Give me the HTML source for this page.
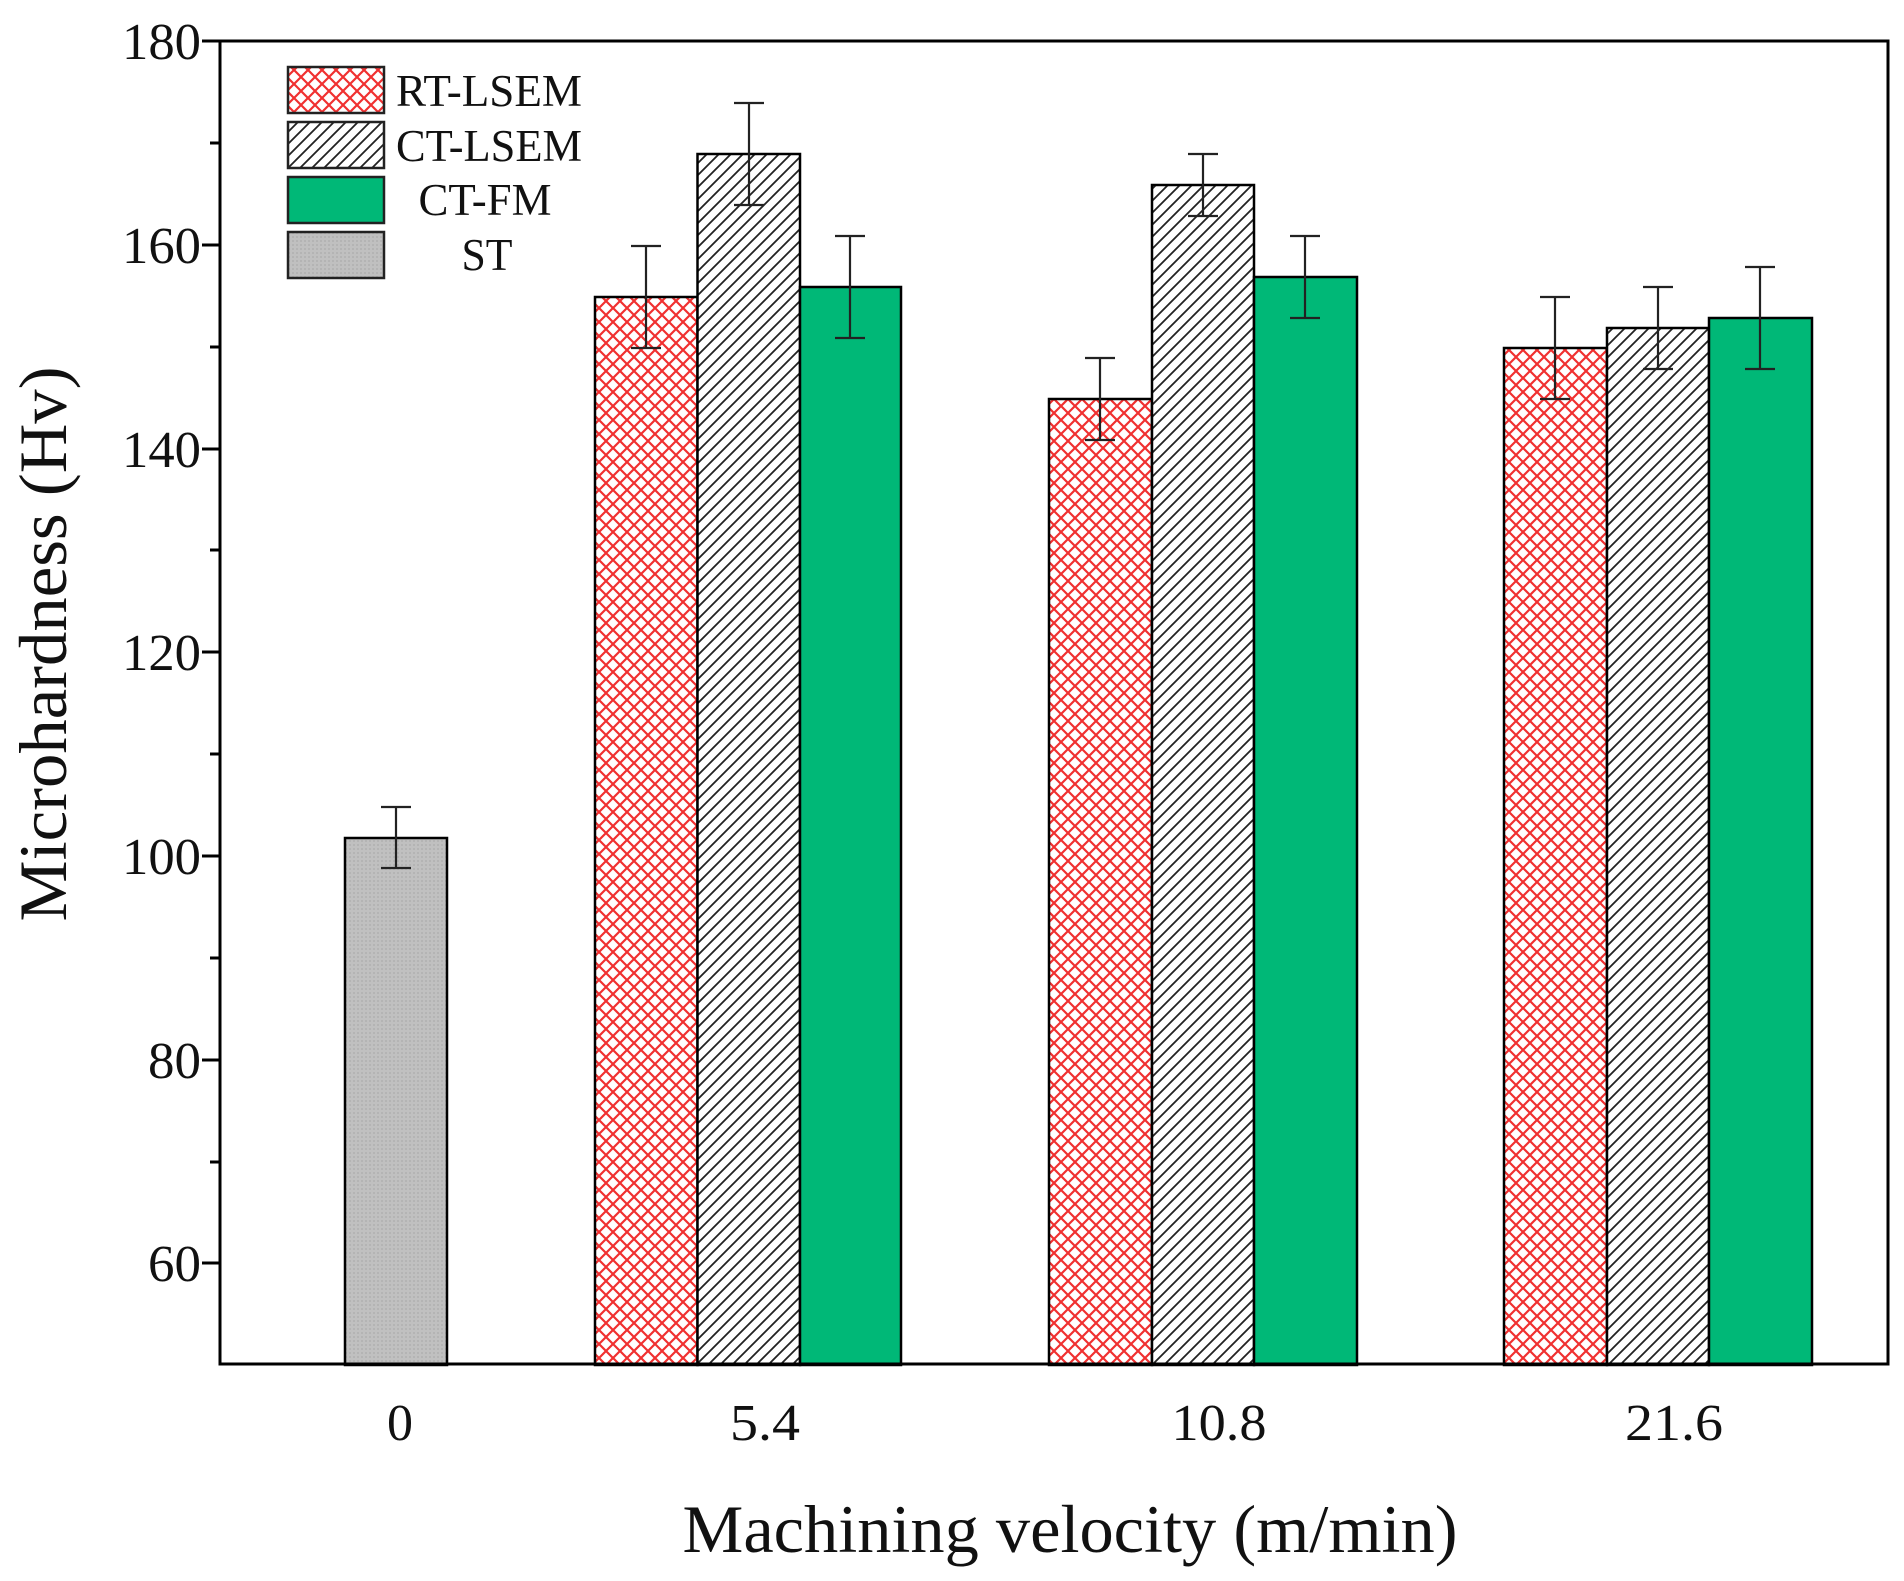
<!DOCTYPE html>
<html><head><style>html,body{margin:0;padding:0;background:#fff}</style></head><body>
<svg width="1904" height="1576" viewBox="0 0 1904 1576" xmlns="http://www.w3.org/2000/svg" font-family="Liberation Serif, serif">
<defs>
<pattern id="red" width="14" height="14" patternUnits="userSpaceOnUse">
<rect width="14" height="14" fill="#fff"/>
<path d="M0,0L14,14M14,0L0,14M-7,7L7,21M7,-7L21,7M-7,7L7,-7M7,21L21,7" stroke="#f03030" stroke-width="2.2"/>
</pattern>
<pattern id="diag" width="12" height="12" patternUnits="userSpaceOnUse">
<rect width="12" height="12" fill="#fff"/>
<path d="M0,12L12,0M-6,6L6,-6M6,18L18,6" stroke="#222" stroke-width="1.8"/>
</pattern>
<pattern id="gray" width="4" height="4" patternUnits="userSpaceOnUse">
<rect width="4" height="4" fill="#c0c0c0"/><rect width="2" height="2" fill="#b4b4b4"/>
</pattern>
</defs>
<g transform="translate(-3,0)">
<g stroke="#000" stroke-width="2.5">
<rect x="348" y="838" width="102" height="527" fill="url(#gray)"/>
<rect x="598" y="297" width="102.5" height="1068" fill="url(#red)"/>
<rect x="700.5" y="154" width="102.5" height="1211" fill="url(#diag)"/>
<rect x="803" y="287" width="101" height="1078" fill="#00b877"/>
<rect x="1052" y="399" width="103" height="966" fill="url(#red)"/>
<rect x="1155" y="185" width="102" height="1180" fill="url(#diag)"/>
<rect x="1257" y="277" width="103" height="1088" fill="#00b877"/>
<rect x="1507" y="348" width="103" height="1017" fill="url(#red)"/>
<rect x="1610" y="328" width="102" height="1037" fill="url(#diag)"/>
<rect x="1712" y="318" width="103" height="1047" fill="#00b877"/>
</g>
<g stroke="#222" stroke-width="2.2" fill="none">
<path d="M399,807V868M384,807H414M384,868H414"/>
<path d="M649,246V348M634,246H664M634,348H664"/>
<path d="M752,103V205M737,103H767M737,205H767"/>
<path d="M853,236V338M838,236H868M838,338H868"/>
<path d="M1103,358V440M1088,358H1118M1088,440H1118"/>
<path d="M1206,154V216M1191,154H1221M1191,216H1221"/>
<path d="M1308,236V318M1293,236H1323M1293,318H1323"/>
<path d="M1558,297V399M1543,297H1573M1543,399H1573"/>
<path d="M1661,287V369M1646,287H1676M1646,369H1676"/>
<path d="M1763,267V369M1748,267H1778M1748,369H1778"/>
</g>
</g>
<rect x="220" y="41" width="1668" height="1323" fill="none" stroke="#000" stroke-width="3"/>
<g stroke="#000" stroke-width="3">
<path d="M202,41H220M202,245H220M202,449H220M202,652H220M202,856H220M202,1060H220M202,1263H220"/>
<path d="M210,143H220M210,347H220M210,550H220M210,754H220M210,958H220M210,1162H220"/>
</g>
<g font-size="52" text-anchor="end" fill="#111" lengthAdjust="spacingAndGlyphs">
<text x="201" y="59" textLength="79" lengthAdjust="spacingAndGlyphs">180</text>
<text x="201" y="263" textLength="79" lengthAdjust="spacingAndGlyphs">160</text>
<text x="201" y="467" textLength="79" lengthAdjust="spacingAndGlyphs">140</text>
<text x="201" y="670" textLength="79" lengthAdjust="spacingAndGlyphs">120</text>
<text x="201" y="874" textLength="79" lengthAdjust="spacingAndGlyphs">100</text>
<text x="201" y="1078" textLength="53" lengthAdjust="spacingAndGlyphs">80</text>
<text x="201" y="1281" textLength="53" lengthAdjust="spacingAndGlyphs">60</text>
</g>
<g font-size="52" text-anchor="middle" fill="#111">
<text x="400" y="1440">0</text>
<text x="765" y="1440" textLength="70" lengthAdjust="spacingAndGlyphs">5.4</text>
<text x="1219" y="1440" textLength="95" lengthAdjust="spacingAndGlyphs">10.8</text>
<text x="1674" y="1440" textLength="98" lengthAdjust="spacingAndGlyphs">21.6</text>
</g>
<text x="1070" y="1552" font-size="68" text-anchor="middle" fill="#111" textLength="775" lengthAdjust="spacingAndGlyphs">Machining velocity (m/min)</text>
<text transform="translate(66,644) rotate(-90)" font-size="68" text-anchor="middle" fill="#111" textLength="555" lengthAdjust="spacingAndGlyphs">Microhardness (Hv)</text>
<g stroke="#222" stroke-width="2.5">
<rect x="288" y="67" width="96" height="46" fill="url(#red)"/>
<rect x="288" y="122" width="96" height="46" fill="url(#diag)"/>
<rect x="288" y="177" width="96" height="46" fill="#00b877"/>
<rect x="288" y="232" width="96" height="46" fill="url(#gray)"/>
</g>
<g font-size="45" text-anchor="middle" fill="#111">
<text x="489" y="106" textLength="186" lengthAdjust="spacingAndGlyphs">RT-LSEM</text>
<text x="489" y="161" textLength="186" lengthAdjust="spacingAndGlyphs">CT-LSEM</text>
<text x="485" y="215" textLength="133" lengthAdjust="spacingAndGlyphs">CT-FM</text>
<text x="487" y="270" textLength="51" lengthAdjust="spacingAndGlyphs">ST</text>
</g>
</svg>
</body></html>
